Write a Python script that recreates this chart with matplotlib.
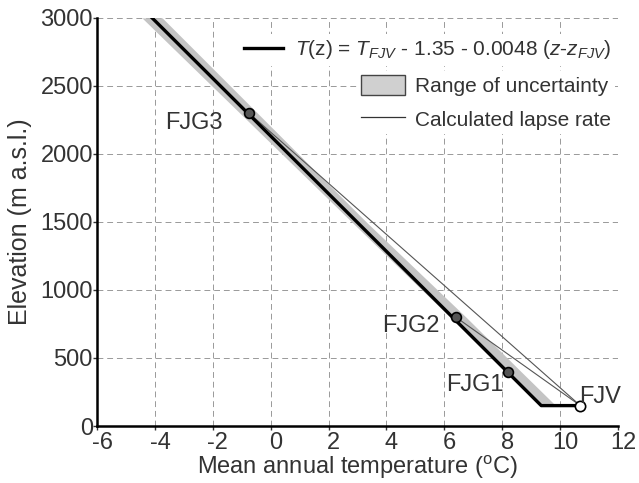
import matplotlib.pyplot as plt
import matplotlib.transforms as mtransforms
from matplotlib.patches import Patch
from matplotlib.lines import Line2D

plt.rcParams['font.family'] = ['Liberation Sans', 'DejaVu Sans']
plt.rcParams['mathtext.fontset'] = 'custom'
plt.rcParams['mathtext.it'] = 'Liberation Sans:italic'
plt.rcParams['mathtext.rm'] = 'Liberation Sans'
plt.rcParams['axes.unicode_minus'] = False

# Stations (temperature degC, elevation m)
station_names = ['FJV', 'FJG1', 'FJG2', 'FJG3']
station_temp = [10.7, 8.2, 6.4, -0.75]
station_elev = [150, 400, 800, 2300]

# Fitted lapse-rate line (incl. offset of 1.35 degC at FJV level)
fit_temp = [10.7, 9.35, -4.1]
fit_elev = [150, 150, 3000]

# Range of uncertainty
band_elev = [150, 400, 800, 1500, 3000]
band_lo = [9.3, 8.1, 6.2, 2.8, -4.45]
band_hi = [9.85, 8.65, 6.75, 3.3, -3.75]

# Calculated lapse rates (FJV -> FJG2, FJV -> FJG3)
calc_temp_1 = [10.7, 6.4]
calc_elev_1 = [150, 800]
calc_temp_2 = [10.7, -0.75]
calc_elev_2 = [150, 2300]

# label positions
label_x = [11.4, 7.05, 4.85, -2.65]
label_y = [210, 300, 735, 2225]

fig = plt.figure(figsize=(6.39, 4.83), dpi=100)
ax = fig.add_axes([0.152, 0.118, 0.815, 0.845])

ax.fill_betweenx(band_elev, band_lo, band_hi, color='#c4c4c4', lw=0, zorder=2)
ax.plot(calc_temp_1, calc_elev_1, color='#555555', lw=0.8, zorder=3)
ax.plot(calc_temp_2, calc_elev_2, color='#555555', lw=0.8, zorder=3)
ax.plot(fit_temp, fit_elev, color='black', lw=2.4, zorder=4)
ax.scatter(station_temp[1:], station_elev[1:], s=50, facecolor='#555555', edgecolor='black',
           linewidth=1.2, zorder=5)
ax.scatter(station_temp[:1], station_elev[:1], s=55, facecolor='white', edgecolor='black',
           linewidth=1.2, zorder=5)

for name, x, y in zip(station_names, label_x, label_y):
    ax.text(x, y, name, fontsize=17, ha='center', va='center', color='#333333', zorder=6)

ax.set_xlim(-6, 12)
ax.set_ylim(0, 3000)
ax.set_xticks(range(-6, 13, 2))
ax.set_yticks(range(0, 3001, 500))
ax.grid(True, linestyle=(0, (6, 4)), color='#999999', lw=0.7)
ax.set_axisbelow(True)
for s in ['top', 'right']:
    ax.spines[s].set_visible(False)
ax.spines['left'].set_linewidth(1.8)
ax.spines['bottom'].set_linewidth(1.8)
ax.tick_params(labelsize=17, length=3, width=1, colors='#333333')
ax.tick_params(axis='y', pad=0)
ax.tick_params(axis='x', pad=1)
shift = mtransforms.ScaledTranslation(5 / 100, 0, fig.dpi_scale_trans)
for lbl in ax.get_xticklabels():
    lbl.set_transform(lbl.get_transform() + shift)
ax.set_xlabel('Mean annual temperature ($^{\\rm o}$C)', fontsize=17, color='#333333', labelpad=0)
ax.set_ylabel('Elevation (m a.s.l.)', fontsize=18, color='#333333', labelpad=6)

leg1 = ax.legend([Line2D([0], [0], color='black', lw=2.4)],
                 [r'$T$(z) = $T_{FJV}$ - 1.35 - 0.0048 ($z$-$z_{FJV}$)'],
                 loc='upper right', bbox_to_anchor=(0.995, 0.96), fontsize=15,
                 frameon=True, facecolor='white', edgecolor='none', framealpha=1,
                 handlelength=1.9, handletextpad=0.55, borderpad=0.2, borderaxespad=0)
ax.add_artist(leg1)
leg2 = ax.legend([Patch(facecolor='#d0d0d0', edgecolor='#444444', lw=1),
                  Line2D([0], [0], color='#333333', lw=0.9)],
                 ['Range of uncertainty', 'Calculated lapse rate'],
                 loc='upper right', bbox_to_anchor=(0.995, 0.87), fontsize=15,
                 frameon=True, facecolor='white', edgecolor='none', framealpha=1,
                 handlelength=2.1, handleheight=1.1, handletextpad=0.5,
                 borderpad=0.2, borderaxespad=0, labelspacing=0.6)
for leg in (leg1, leg2):
    for t in leg.get_texts():
        t.set_color('#333333')

fig.savefig('out.png', dpi=100)
